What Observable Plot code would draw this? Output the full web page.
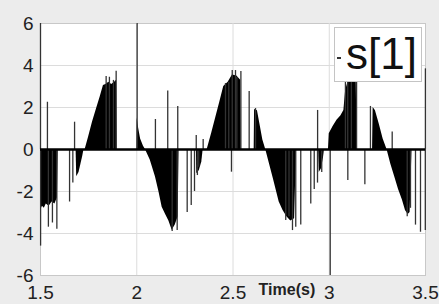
<!DOCTYPE html>
<html><head><meta charset="utf-8">
<script src="https://cdn.jsdelivr.net/npm/d3@7"></script>
<script src="https://cdn.jsdelivr.net/npm/@observablehq/plot@0.6"></script>
<style>
body{margin:0;background:#ececec;}
#wrap{position:relative;width:439px;height:304px;overflow:hidden;background:#ececec;}
#wrap svg{position:absolute;left:0;top:0;}
#lgbox{position:absolute;left:334px;top:27px;width:86px;height:53px;background:#fff;border:1px solid #c4c4c4;}
#lgdash{position:absolute;left:337px;top:57px;width:4px;height:2px;background:#333;}
#lgtext{position:absolute;left:346px;top:32px;font-family:"Liberation Sans",Arial,sans-serif;font-size:44px;line-height:44px;color:#111;white-space:nowrap;}
</style></head><body><div id="wrap"></div>
<script>
const xTicks = [1.5, 2, 2.5, 3, 3.5];
const yTicks = [-6, -4, -2, 0, 2, 4, 6];
const seriesName = "s[1]";
const xLabel = "Time(s)";
const xLabelAt = 2.78;

// filled humps (dense stems) as envelopes [t, v]
const negHump0 = [[1.500,-2.9],[1.51,-2.7],[1.52,-2.8],[1.53,-2.6],[1.545,-2.7],[1.56,-2.5],[1.575,-2.6],[1.588,-2.3],[1.592,0]];
const negHump1 = [[1.685,0],[1.688,-1.3],[1.70,-1.1],[1.71,-0.7],[1.72,-0.3],[1.726,0]];
const posHump1 = [[1.732,0],[1.75,0.6],[1.77,1.3],[1.79,1.9],[1.81,2.5],[1.827,3.05],[1.84,3.1],[1.855,3.2],[1.87,3.1],[1.885,3.2],[1.895,3.3],[1.898,0]];
const spikeTail = [[2.001,0],[2.002,1.5],[2.01,1.0],[2.02,0.5],[2.035,0.15],[2.045,0]];
const negHump2 = [[2.045,0],[2.07,-0.5],[2.097,-1.3],[2.115,-2.0],[2.132,-2.75],[2.15,-3.1],[2.167,-3.4],[2.184,-3.85],[2.20,-3.6],[2.215,-3.2],[2.22,0]];
const negHump2b = [[2.31,0],[2.312,-1.15],[2.325,-1.0],[2.338,-0.6],[2.345,0]];
const posHump2 = [[2.366,0],[2.39,0.8],[2.41,1.5],[2.43,2.2],[2.452,3.0],[2.475,3.2],[2.497,3.55],[2.52,3.5],[2.54,3.3],[2.543,0]];
const posHump2b = [[2.61,0],[2.612,1.9],[2.627,1.85],[2.64,1.2],[2.655,0.45],[2.67,0]];
const negHump3 = [[2.67,0],[2.69,-0.7],[2.71,-1.4],[2.74,-2.5],[2.76,-2.9],[2.78,-3.2],[2.80,-3.4],[2.82,-3.3],[2.83,0]];
const negHump3b = [[2.945,0],[2.948,-1.1],[2.96,-0.9],[2.97,-0.4],[2.975,0]];
const posHump3 = [[2.996,0],[3.0,0.75],[3.02,1.1],[3.041,1.4],[3.06,1.6],[3.076,1.86],[3.085,2.8],[3.10,3.3],[3.12,3.5],[3.14,3.4],[3.145,0]];
const posHump3b = [[3.225,0],[3.228,2.0],[3.24,1.85],[3.26,1.2],[3.28,0.5],[3.30,0]];
const negHump4 = [[3.30,0],[3.32,-0.7],[3.34,-1.3],[3.36,-1.9],[3.38,-2.4],[3.396,-2.9],[3.41,-3.1],[3.42,-3.0],[3.43,0]];

// isolated stems
const stemT = [1.500,1.5005,1.536,1.541,1.562,1.585,1.651,1.668,1.677,1.841,1.858,1.879,1.893,2.002,2.097,2.161,2.213,2.309,2.345,2.184,2.21,2.262,2.283,2.30,2.315,2.322,2.492,2.461,2.478,2.496,2.513,2.52,2.541,2.584,2.617,2.774,2.791,2.809,2.826,2.852,2.904,2.922,2.939,2.961,2.9395,3.005,3.084,3.096,3.115,3.142,3.214,3.327,3.4995,3.0965,3.185,3.405,3.422,3.448,3.474,3.499];
const stemV = [6.0,-4.6,2.25,-3.7,-3.5,-3.8,-2.5,-1.6,1.3,3.48,3.44,3.29,3.73,6.0,1.43,2.78,2.05,0.67,0.48,-3.9,-3.86,-3.0,-2.67,-2.0,-1.24,-0.84,-1.08,3.14,3.2,3.76,3.76,3.43,3.71,2.76,1.95,-3.38,-3.2,-3.86,-3.7,-3.6,-2.6,-1.9,-1.6,-1.1,1.86,-6.0,3.9,3.9,3.9,3.9,2.05,0.83,3.84,-1.48,-1.68,-3.2,-2.8,-3.6,-3.94,-3.86];

const humps = [negHump0,negHump1,posHump1,spikeTail,negHump2,negHump2b,posHump2,posHump2b,negHump3,negHump3b,posHump3,posHump3b,negHump4];
const envData = humps.flatMap((h,i)=>h.map(([t,v])=>({t,v,id:i})));
const stems = stemT.map((t,i)=>({t,v:stemV[i]}));

const font = '"Liberation Sans", Arial, sans-serif';
const chart = Plot.plot({
  width: 439, height: 304,
  marginLeft: 40, marginRight: 14, marginTop: 23, marginBottom: 29,
  x: {domain: [1.5, 3.5]},
  y: {domain: [-6, 6]},
  style: {background: "transparent", fontFamily: font, fontSize: "19px", color: "#222"},
  marks: [
    Plot.frame({fill: "#fff", stroke: "#c8c8c8"}),
    Plot.gridX(xTicks.slice(1, -1), {stroke: "#dcdcdc", strokeOpacity: 1}),
    Plot.gridY(yTicks.slice(1, -1), {stroke: "#dcdcdc", strokeOpacity: 1}),
    Plot.areaY(envData, {x: "t", y: "v", z: "id", fill: "#000"}),
    Plot.ruleX(stems, {x: "t", y1: 0, y2: "v", stroke: "#333", strokeWidth: 1.3}),
    Plot.ruleY([0], {stroke: "#000", strokeWidth: 2.5}),
    Plot.axisY(yTicks, {tickSize: 0, tickPadding: 7, fontSize: 19, label: null, tickFormat: d => String(d)}),
    Plot.axisX(xTicks, {tickSize: 0, tickPadding: 10, fontSize: 19, label: null, tickFormat: d => String(d)}),
    Plot.text([xLabel], {x: [xLabelAt], frameAnchor: "bottom", dy: 19, fontWeight: "bold", fontSize: 16, fill: "#222"})
  ]
});
const wrap = document.getElementById("wrap");
wrap.appendChild(chart);
wrap.insertAdjacentHTML("beforeend", `<div id="lgbox"></div><div id="lgdash"></div><div id="lgtext">${seriesName}</div>`);
</script>
</body></html>
